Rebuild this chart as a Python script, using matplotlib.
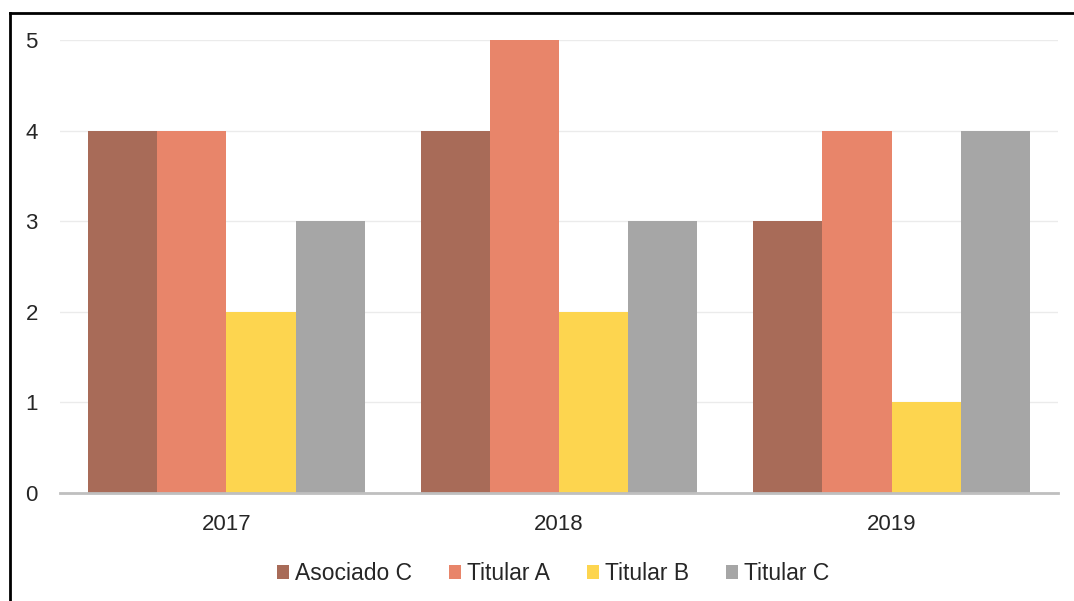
import matplotlib.pyplot as plt
from matplotlib.lines import Line2D
import numpy as np

plt.rcParams["font.family"] = ["Liberation Sans", "DejaVu Sans"]

# Data
years = ["2017", "2018", "2019"]
series_names = ["Asociado C", "Titular A", "Titular B", "Titular C"]
asociado_c = [4, 4, 3]
titular_a = [4, 5, 4]
titular_b = [2, 2, 1]
titular_c = [3, 3, 4]
colors = ["#A86B58", "#E8856A", "#FDD54F", "#A6A6A6"]

fig = plt.figure(figsize=(10.74, 6.01), dpi=100)
ax = fig.add_axes([0.0559, 0.1797, 0.9292, 0.7537])

x = np.arange(len(years))
w = 0.208
values = [asociado_c, titular_a, titular_b, titular_c]
for i in range(len(values)):
    ax.bar(x + (i - 1.5) * w, values[i], width=w, color=colors[i],
           label=series_names[i], zorder=2)

ax.set_xlim(-0.5, 2.5)
ax.set_ylim(0, 5)
ax.set_yticks(range(0, 6))
ax.set_xticks(x)
ax.set_xticklabels(years)
ax.tick_params(axis="both", length=0, labelsize=16, colors="#262626")
ax.tick_params(axis="y", pad=16)
ax.tick_params(axis="x", pad=15)
ax.yaxis.grid(True, color="#EBEBEB", linewidth=1, zorder=0)
ax.set_axisbelow(True)
for s in ["top", "right", "left"]:
    ax.spines[s].set_visible(False)
ax.spines["bottom"].set_color("#BFBFBF")
ax.spines["bottom"].set_linewidth(2)
ax.spines["bottom"].set_zorder(3)

leg = fig.legend(loc="center", bbox_to_anchor=(0.515, 0.046), ncol=4,
                 frameon=False, fontsize=16.5, handlelength=0.55, handleheight=0.55,
                 handletextpad=0.25, columnspacing=1.6)
for t in leg.get_texts():
    t.set_color("#262626")

# screenshot frame (top and left edges)
fig.add_artist(Line2D([10 / 1074, 1.0], [1 - 13 / 601, 1 - 13 / 601],
                      transform=fig.transFigure, color="black", linewidth=2))
fig.add_artist(Line2D([10 / 1074, 10 / 1074], [0.0, 1 - 13 / 601],
                      transform=fig.transFigure, color="black", linewidth=2))

fig.savefig("out.png", dpi=100, facecolor="white")
